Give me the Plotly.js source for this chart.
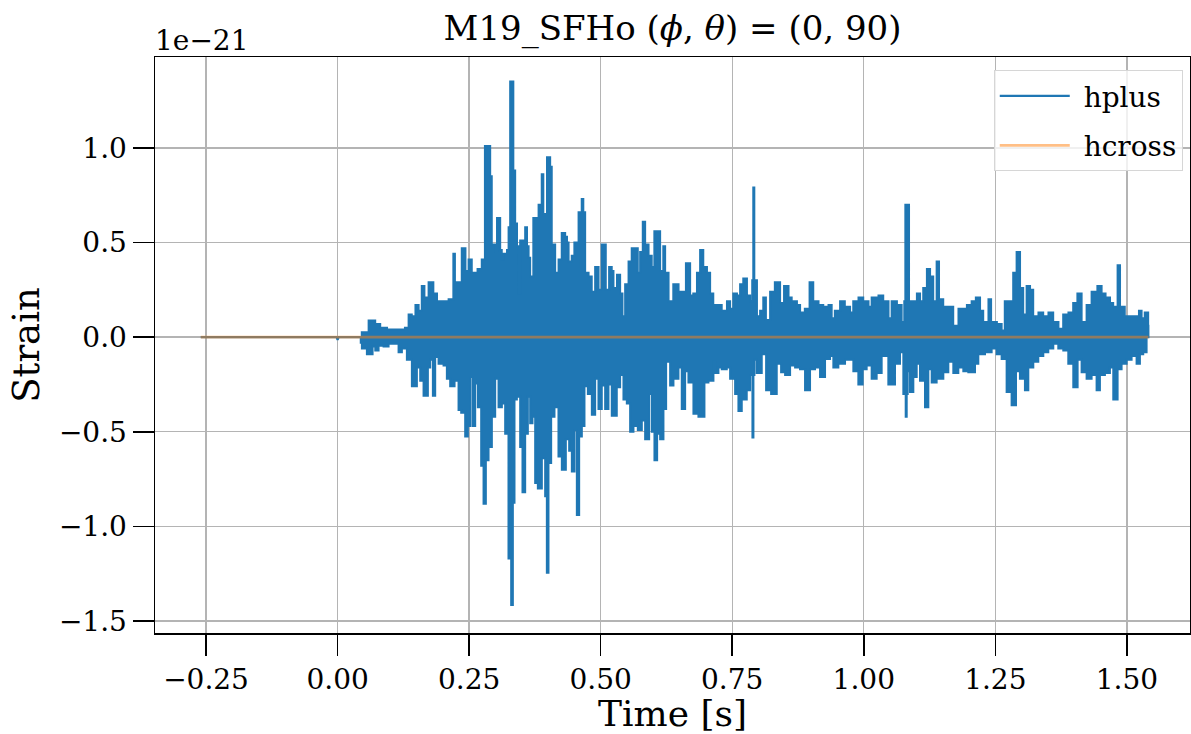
<!DOCTYPE html>
<html>
<head>
<meta charset="utf-8">
<script src="https://cdn.plot.ly/plotly-3.0.1.min.js"></script>
<style>html,body{margin:0;padding:0;background:#fff;}#chart{width:1191px;height:734px;}</style>
</head>
<body>
<div id="chart"></div>
<script>
// Strain values in units of 1e-21, times in seconds
// quiet part before the burst (hplus)
const preT = [-0.26, -0.002, 0.0, 0.002, 0.044];
const preV = [0, 0, -0.015, 0, 0];

// upper envelope of hplus
const upT = [0.044,0.046,0.059,0.065,0.0715,0.075,0.081,0.087,0.094,0.106,0.119,0.128,0.135,0.141,0.148,0.154,0.160,0.165,0.173,0.182,0.189,0.198,0.211,0.220,0.223,0.229,0.236,0.243,0.249,0.255,0.266,0.274,0.280,0.285,0.290,0.293,0.2995,0.303,0.309,0.312,0.315,0.322,0.325,0.328,0.331,0.334,0.3375,0.341,0.344,0.347,0.353,0.3565,0.360,0.363,0.366,0.372,0.379,0.382,0.388,0.391,0.398,0.404,0.407,0.4135,0.420,0.426,0.4325,0.436,0.439,0.445,0.450,0.455,0.458,0.464,0.467,0.4705,0.477,0.483,0.4895,0.496,0.502,0.507,0.5097,0.516,0.521,0.5243,0.531,0.537,0.5414,0.5465,0.553,0.559,0.5655,0.5705,0.575,0.580,0.5845,0.591,0.597,0.602,0.6085,0.613,0.619,0.6225,0.629,0.638,0.648,0.654,0.662,0.667,0.670,0.676,0.683,0.689,0.695,0.702,0.708,0.714,0.727,0.730,0.740,0.746,0.752,0.759,0.765,0.771,0.778,0.784,0.788,0.790,0.792,0.797,0.803,0.809,0.814,0.822,0.831,0.841,0.8485,0.857,0.863,0.873,0.879,0.888,0.897,0.904,0.914,0.923,0.933,0.939,0.945,0.955,0.964,0.974,0.980,0.990,0.999,1.009,1.015,1.028,1.037,1.047,1.053,1.063,1.072,1.077,1.079,1.083,1.086,1.094,1.101,1.107,1.113,1.120,1.126,1.132,1.1385,1.143,1.151,1.161,1.170,1.180,1.189,1.196,1.205,1.213,1.221,1.227,1.237,1.242,1.253,1.262,1.268,1.278,1.284,1.2905,1.297,1.303,1.3095,1.316,1.322,1.332,1.341,1.351,1.360,1.370,1.379,1.389,1.398,1.406,1.414,1.4235,1.433,1.444,1.452,1.4595,1.468,1.474,1.4824,1.487,1.496,1.506,1.515,1.523,1.528,1.534,1.5405,1.541];
const upV = [0,0.026,0.088,0.088,0.07,0.07,0.05,0.05,0.04,0.04,0.04,0.05,0.12,0.11,0.17,0.14,0.27,0.21,0.29,0.23,0.19,0.19,0.20,0.44,0.29,0.29,0.47,0.35,0.41,0.34,0.36,0.41,1.01,1.01,0.85,0.49,0.45,0.63,0.46,0.41,0.44,0.46,0.58,1.35,1.35,0.88,0.60,0.48,0.23,0.51,0.51,0.58,0.48,0.42,0.32,0.63,0.63,0.70,0.86,0.65,0.95,0.90,0.49,0.34,0.41,0.55,0.53,0.50,0.40,0.43,0.50,0.37,0.66,0.73,0.66,0.34,0.32,0.24,0.37,0.25,0.49,0.49,0.25,0.37,0.35,0.26,0.33,0.23,0.11,0.28,0.40,0.47,0.47,0.34,0.45,0.61,0.49,0.43,0.37,0.56,0.56,0.35,0.48,0.34,0.19,0.28,0.24,0.24,0.39,0.39,0.22,0.23,0.34,0.46,0.37,0.34,0.23,0.17,0.17,0.14,0.19,0.15,0.23,0.22,0.28,0.31,0.22,0.19,0.30,0.79,0.30,0.11,0.14,0.21,0.09,0.24,0.29,0.18,0.27,0.21,0.19,0.17,0.13,0.15,0.29,0.19,0.17,0.16,0.17,0.10,0.14,0.19,0.16,0.13,0.19,0.21,0.19,0.16,0.21,0.22,0.19,0.10,0.19,0.17,0.08,0.19,0.70,0.70,0.19,0.19,0.23,0.19,0.26,0.36,0.32,0.19,0.40,0.20,0.16,0.16,0.06,0.15,0.15,0.17,0.19,0.21,0.14,0.08,0.20,0.08,0.07,0.035,0.19,0.19,0.34,0.45,0.26,0.12,0.27,0.25,0.11,0.13,0.11,0.13,0.08,0.044,0.12,0.13,0.18,0.23,0.08,0.17,0.24,0.27,0.23,0.21,0.18,0.16,0.38,0.16,0.11,0.11,0.11,0.14,0.10,0.13,0.06,0];

// lower envelope of hplus
const loT = [0.044,0.0462,0.0557,0.0665,0.0716,0.0779,0.0874,0.0969,0.1096,0.1159,0.1222,0.1317,0.1412,0.1507,0.157,0.1634,0.1716,0.176,0.1811,0.1855,0.1919,0.2014,0.2077,0.214,0.2223,0.2299,0.2349,0.2425,0.2476,0.252,0.2565,0.2615,0.2666,0.2729,0.2774,0.2818,0.2869,0.2932,0.2995,0.3059,0.3122,0.3185,0.3248,0.3299,0.3331,0.3362,0.3407,0.347,0.3514,0.3565,0.3616,0.366,0.3704,0.3755,0.3806,0.3882,0.3945,0.3977,0.4008,0.4059,0.4122,0.4198,0.4262,0.4338,0.4401,0.4452,0.4502,0.4547,0.4591,0.4642,0.4692,0.4756,0.4832,0.4895,0.4958,0.5021,0.5085,0.5148,0.5211,0.5306,0.537,0.5433,0.5497,0.556,0.5623,0.5706,0.5782,0.5845,0.5921,0.5972,0.6022,0.6073,0.613,0.6193,0.6244,0.632,0.6383,0.6478,0.6541,0.6605,0.6668,0.6763,0.6858,0.6972,0.7048,0.7143,0.7174,0.7238,0.7301,0.7396,0.746,0.7555,0.7618,0.7681,0.7776,0.7839,0.7884,0.7903,0.7922,0.7966,0.8061,0.8144,0.8239,0.8346,0.8429,0.8505,0.86,0.8695,0.8789,0.8884,0.8979,0.9074,0.9169,0.9264,0.9359,0.9422,0.9517,0.9644,0.9802,0.9897,0.9979,1.0055,1.015,1.0245,1.034,1.0467,1.0593,1.0689,1.0752,1.0797,1.0816,1.0835,1.0879,1.0942,1.1006,1.1069,1.1164,1.1227,1.1291,1.1385,1.1512,1.1607,1.1702,1.1797,1.1892,1.1987,1.2114,1.2177,1.2304,1.243,1.2525,1.262,1.2715,1.281,1.2893,1.2968,1.3063,1.3127,1.3222,1.3317,1.3412,1.3507,1.3602,1.3697,1.3792,1.3887,1.3982,1.4064,1.414,1.4235,1.433,1.4425,1.4488,1.4583,1.4678,1.4742,1.4824,1.49,1.4995,1.509,1.5185,1.5248,1.5311,1.5375,1.541];
const loV = [0,-0.03,-0.06,-0.09,-0.05,-0.07,-0.045,-0.05,-0.035,-0.035,-0.08,-0.06,-0.12,-0.26,-0.16,-0.23,-0.31,-0.16,-0.12,-0.31,-0.105,-0.14,-0.15,-0.22,-0.26,-0.23,-0.385,-0.40,-0.525,-0.47,-0.21,-0.47,-0.245,-0.37,-0.68,-0.88,-0.65,-0.58,-0.42,-0.22,-0.37,-0.35,-0.51,-1.17,-1.415,-0.875,-0.33,-0.315,-0.58,-0.82,-0.51,-0.315,-0.455,-0.42,-0.77,-0.80,-0.64,-0.84,-1.245,-0.665,-0.42,-0.37,-0.63,-0.70,-0.54,-0.60,-0.71,-0.49,-0.94,-0.525,-0.47,-0.26,-0.30,-0.41,-0.22,-0.38,-0.255,-0.38,-0.25,-0.415,-0.265,-0.20,-0.33,-0.35,-0.50,-0.47,-0.49,-0.44,-0.54,-0.30,-0.50,-0.65,-0.51,-0.54,-0.38,-0.13,-0.255,-0.22,-0.16,-0.38,-0.18,-0.24,-0.405,-0.42,-0.24,-0.23,-0.13,-0.19,-0.16,-0.17,-0.16,-0.22,-0.30,-0.39,-0.33,-0.28,-0.20,-0.53,-0.20,-0.12,-0.19,-0.09,-0.28,-0.30,-0.14,-0.185,-0.20,-0.15,-0.16,-0.17,-0.28,-0.17,-0.16,-0.21,-0.115,-0.10,-0.16,-0.14,-0.12,-0.18,-0.25,-0.17,-0.15,-0.22,-0.19,-0.10,-0.25,-0.14,-0.08,-0.30,-0.42,-0.30,-0.18,-0.29,-0.21,-0.14,-0.23,-0.37,-0.17,-0.24,-0.22,-0.185,-0.13,-0.19,-0.16,-0.18,-0.185,-0.14,-0.09,-0.08,-0.06,-0.09,-0.115,-0.29,-0.36,-0.18,-0.22,-0.28,-0.16,-0.13,-0.10,-0.08,-0.06,-0.035,-0.06,-0.07,-0.14,-0.265,-0.12,-0.185,-0.22,-0.20,-0.28,-0.20,-0.19,-0.16,-0.33,-0.17,-0.14,-0.12,-0.10,-0.14,-0.09,-0.08,0];

// hcross: flat at zero over the whole record
const crossT = [-0.26, 0.25, 0.75, 1.25, 1.541];
const crossV = [0, 0, 0, 0, 0];

// axis ticks
const xTickVals = [-0.25, 0, 0.25, 0.5, 0.75, 1.0, 1.25, 1.5];
const xTickText = ["\u22120.25", "0.00", "0.25", "0.50", "0.75", "1.00", "1.25", "1.50"];
const yTickVals = [-1.5, -1.0, -0.5, 0, 0.5, 1.0];
const yTickText = ["\u22121.5", "\u22121.0", "\u22120.5", "0.0", "0.5", "1.0"];

const BLUE = '#1f77b4';
const FONT = 'DejaVu Serif, Liberation Serif, serif';

const polyX = upT.concat(loT.slice().reverse());
const polyY = upV.concat(loV.slice().reverse());

const traces = [
  {x: polyX, y: polyY, type: 'scatter', mode: 'lines', fill: 'toself', fillcolor: BLUE,
   line: {color: BLUE, width: 2, shape: 'hv'}, showlegend: false, legendgroup: 'hp', hoverinfo: 'skip'},
  {x: preT, y: preV, type: 'scatter', mode: 'lines', name: '\u00a0hplus', legendgroup: 'hp',
   line: {color: BLUE, width: 2.2}},
  {x: crossT, y: crossV, type: 'scatter', mode: 'lines', name: '\u00a0hcross',
   line: {color: 'rgba(255,127,14,0.5)', width: 2.6}}
];

const axisCommon = {
  showline: true, mirror: true, linecolor: '#000', linewidth: 1.5,
  ticks: 'outside', ticklen: 21, tickwidth: 1.5, tickcolor: '#000',
  showgrid: true, gridcolor: '#b4b4b4', gridwidth: 1.4, zeroline: false,
  tickfont: {family: FONT, size: 28, color: '#000'}
};

const layout = {
  width: 1191, height: 734,
  margin: {l: 155, r: 1, t: 57, b: 101},
  paper_bgcolor: '#fff', plot_bgcolor: '#fff',
  font: {family: FONT, color: '#000'},
  title: {text: 'M19_SFHo (<i>\u03d5</i>, <i>\u03b8</i>) = (0, 90)', font: {family: FONT, size: 34, color: '#000'},
          xref: 'paper', x: 0.5, xanchor: 'center', yref: 'container', y: 0.962, yanchor: 'middle'},
  xaxis: Object.assign({}, axisCommon, {
    range: [-0.347, 1.62], tickvals: xTickVals, ticktext: xTickText,
    title: {text: 'Time [s]', font: {family: FONT, size: 36, color: '#000'}, standoff: 9}
  }),
  yaxis: Object.assign({}, axisCommon, {
    range: [-1.563, 1.48], tickvals: yTickVals, ticktext: yTickText,
    title: {text: 'Strain', font: {family: FONT, size: 37, color: '#000'}, standoff: 8}
  }),
  legend: {x: 0.993, xanchor: 'right', y: 0.977, yanchor: 'top',
           bgcolor: 'rgba(255,255,255,0.8)', bordercolor: '#d6d6d6', borderwidth: 1,
           font: {family: FONT, size: 28, color: '#000'}, itemwidth: 70},
  annotations: [
    {text: '1e\u221221', xref: 'paper', yref: 'paper', x: 0, y: 1, xanchor: 'left', yanchor: 'bottom',
     showarrow: false, font: {family: FONT, size: 28, color: '#000'}, xshift: -2, yshift: -2}
  ],
  showlegend: true
};

Plotly.newPlot('chart', traces, layout, {staticPlot: true, displayModeBar: false});
</script>
</body>
</html>
